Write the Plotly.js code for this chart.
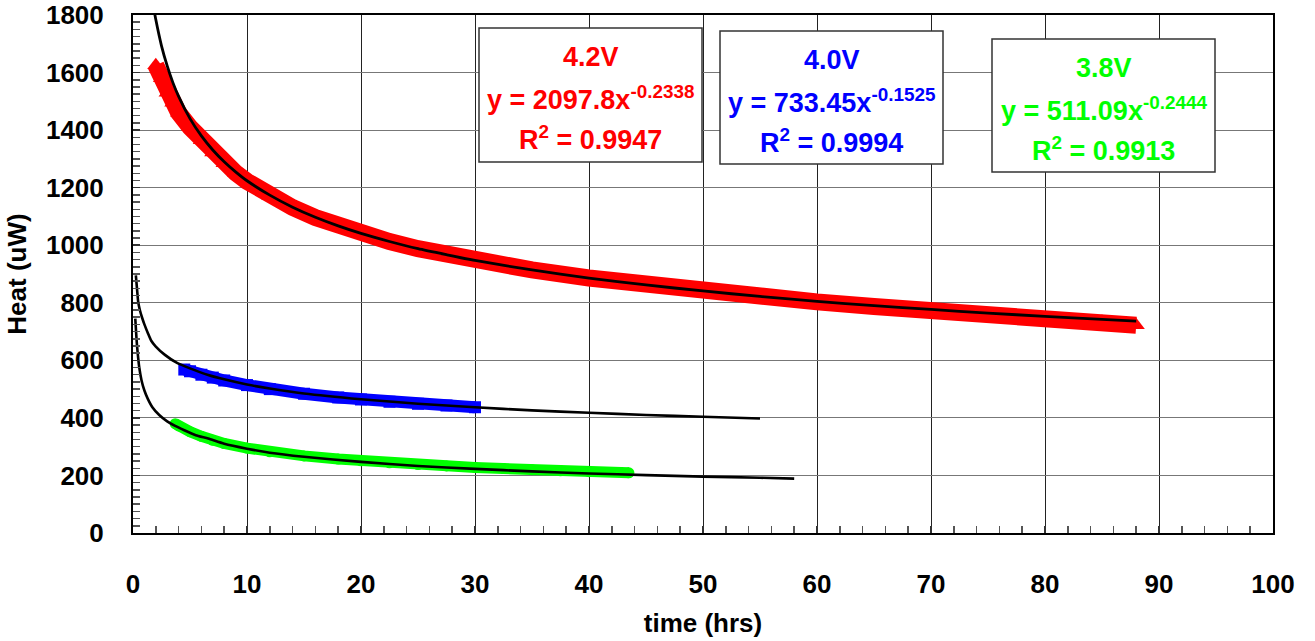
<!DOCTYPE html>
<html>
<head>
<meta charset="utf-8">
<script src="https://cdn.plot.ly/plotly-3.0.1.min.js"></script>
<style>html,body{margin:0;padding:0;background:#fff;}#chart{width:1315px;height:641px;}</style>
</head>
<body>
<div id="chart"></div>
<script>
// ---- data ----
const red_x = [2, 2.5, 3, 3.5, 4, 5, 6, 7, 8, 9, 10, 12, 14, 16, 18, 20, 22.5, 25, 27.5, 30, 35, 40, 45, 50, 55, 60, 65, 70, 75, 80, 85, 88];
const red_y = [1625, 1580, 1530, 1495, 1460, 1410, 1365, 1322, 1285, 1252, 1222, 1172, 1131, 1096, 1066, 1040, 1013, 988, 967, 947, 914, 886, 862, 841, 822, 803, 787, 772, 758, 746, 734, 722];

const blue_x = [4.5, 5, 6, 7, 8, 10, 12, 15, 18, 20, 22.5, 25, 27.5, 30];
const blue_y = [568, 562, 550, 540, 530, 514, 500, 484, 471, 464, 456, 449, 443, 437];

const green_x = [3.7, 4, 5, 6, 7, 8, 10, 12, 15, 18, 20, 22.5, 25, 27.5, 30, 32.5, 35, 37.5, 40, 43.5];
const green_y = [380, 372, 352, 336, 322, 311, 295, 282, 268, 257, 251, 244, 238, 233, 228, 224, 220, 216, 213, 209];

const fitRed_x = [1.8, 2, 2.5, 3, 3.5, 4, 5, 6, 7, 8, 9, 10, 12, 14, 16, 18, 20, 22.5, 25, 27.5, 30, 35, 40, 45, 50, 55, 60, 65, 70, 75, 80, 85, 88];
const fitRed_y = [1828, 1784, 1693, 1623, 1565, 1517, 1440, 1380, 1331, 1290, 1255, 1224, 1174, 1132, 1097, 1067, 1041, 1013, 988, 967, 947, 914, 886, 862, 841, 822, 805, 790, 777, 764, 753, 742, 736];

const fitBlue_x = [0.25, 0.35, 0.45, 0.6, 0.8, 1, 1.3, 1.6, 2, 2.8, 3.9, 5, 6.6, 8, 10, 12, 15, 20, 25, 30, 35, 40, 45, 50, 55];
const fitBlue_y = [895, 850, 805, 775, 748, 725, 695, 668, 648, 619, 590, 572, 549, 534, 516, 502, 485, 465, 449, 437, 426, 418, 410, 404, 398];

const fitGreen_x = [0.2, 0.3, 0.4, 0.55, 0.75, 1, 1.3, 1.7, 2.3, 3, 3.7, 4.5, 5.5, 6.6, 8, 10, 12, 15, 20, 25, 30, 35, 40, 45, 50, 55, 58];
const fitGreen_y = [745, 680, 630, 575, 530, 495, 466, 437, 410, 388, 372, 357, 340, 328, 310, 293, 279, 265, 247, 233, 223, 214, 207, 201, 196, 192, 189];

const series_names = ['4.2V', '4.0V', '3.8V'];
const fit_coef = ['2097.8', '733.45', '511.09'];
const fit_exp = ['-0.2338', '-0.1525', '-0.2444'];
const fit_r2 = ['0.9947', '0.9994', '0.9913'];
const series_colors = ['#FF0000', '#0000FF', '#00FF00'];

const x_title = 'time (hrs)';
const y_title = 'Heat (uW)';

// ---- styling / layout ----
const FONT = 'Liberation Sans, Arial, Helvetica, sans-serif';
const L = 133, R = 1273, T = 15, B = 533;
const px2x = p => (p - L) / (R - L);
const px2y = p => (B - p) / (B - T);

const traces = [
  {x: red_x, y: red_y, mode: 'lines+markers', line: {color: series_colors[0], width: 17},
   marker: {symbol: 'triangle-up', size: 15, color: series_colors[0]}},
  {x: blue_x, y: blue_y, mode: 'lines+markers', line: {color: series_colors[1], width: 12},
   marker: {symbol: 'square', size: 12, color: series_colors[1]}},
  {x: green_x, y: green_y, mode: 'lines+markers', line: {color: series_colors[2], width: 11},
   marker: {symbol: 'circle', size: 11, color: series_colors[2]}},
  {x: fitRed_x, y: fitRed_y, mode: 'lines', line: {color: '#000', width: 2.8, shape: 'spline', smoothing: 0.6}},
  {x: fitBlue_x, y: fitBlue_y, mode: 'lines', line: {color: '#000', width: 2.6, shape: 'spline', smoothing: 0.6}},
  {x: fitGreen_x, y: fitGreen_y, mode: 'lines', line: {color: '#000', width: 2.6, shape: 'spline', smoothing: 0.6}}
].map(t => Object.assign(t, {type: 'scatter', showlegend: false, hoverinfo: 'skip', cliponaxis: true}));

// boxes in pixel coordinates: [left, right, top, bottom]
const boxes = [[479, 702, 28, 162], [720, 943, 31, 164], [992, 1215, 39, 172]];
const shapes = [];
const annotations = [];
boxes.forEach((b, i) => {
  shapes.push({type: 'rect', xref: 'paper', yref: 'paper',
    x0: px2x(b[0]), x1: px2x(b[1]), y0: px2y(b[3]), y1: px2y(b[2]),
    line: {color: '#333', width: 1.5}, fillcolor: '#fff', layer: 'above'});
  const cx = px2x((b[0] + b[1]) / 2);
  const lines = [series_names[i],
    'y = ' + fit_coef[i] + 'x<sup>' + fit_exp[i] + '</sup>',
    'R<sup>2</sup> = ' + fit_r2[i]];
  const offs = [29, 70, 110];
  lines.forEach((txt, k) => {
    annotations.push({xref: 'paper', yref: 'paper', x: cx, y: px2y(b[2] + offs[k]),
      xanchor: 'center', yanchor: 'middle', showarrow: false, text: txt,
      font: {family: FONT, size: 27, color: series_colors[i], weight: 'bold'}});
  });
});

const axisCommon = {
  showline: true, linecolor: '#000', linewidth: 2, mirror: true,
  ticks: 'inside', ticklen: 7, tickcolor: '#333', tickwidth: 1.5,
  tickfont: {family: FONT, size: 26, color: '#000', weight: 'bold'},
  showgrid: true, zeroline: false, fixedrange: true
};

const layout = {
  width: 1315, height: 641,
  margin: {l: L, r: 1315 - R, t: T, b: 641 - B, pad: 0},
  paper_bgcolor: '#fff', plot_bgcolor: '#fff',
  xaxis: Object.assign({}, axisCommon, {
    range: [0, 100], dtick: 10, tick0: 0, gridcolor: '#222', gridwidth: 1,
    ticklabelstandoff: 27,
    minor: {ticks: 'inside', ticklen: 7, dtick: 2, tickcolor: '#555', tickwidth: 1.5, showgrid: false},
    title: {text: x_title, font: {family: FONT, size: 26, color: '#000', weight: 'bold'}, standoff: 16}
  }),
  yaxis: Object.assign({}, axisCommon, {
    range: [0, 1800], dtick: 200, tick0: 0, gridcolor: '#777', gridwidth: 1.2,
    ticklabelstandoff: 22,
    minor: {ticks: 'inside', ticklen: 7, dtick: 25, tickcolor: '#555', tickwidth: 1.5, showgrid: false},
    title: {text: y_title, font: {family: FONT, size: 26, color: '#000', weight: 'bold'}, standoff: 12}
  }),
  shapes: shapes,
  annotations: annotations
};

Plotly.newPlot('chart', traces, layout, {displayModeBar: false, staticPlot: true});
</script>
</body>
</html>
